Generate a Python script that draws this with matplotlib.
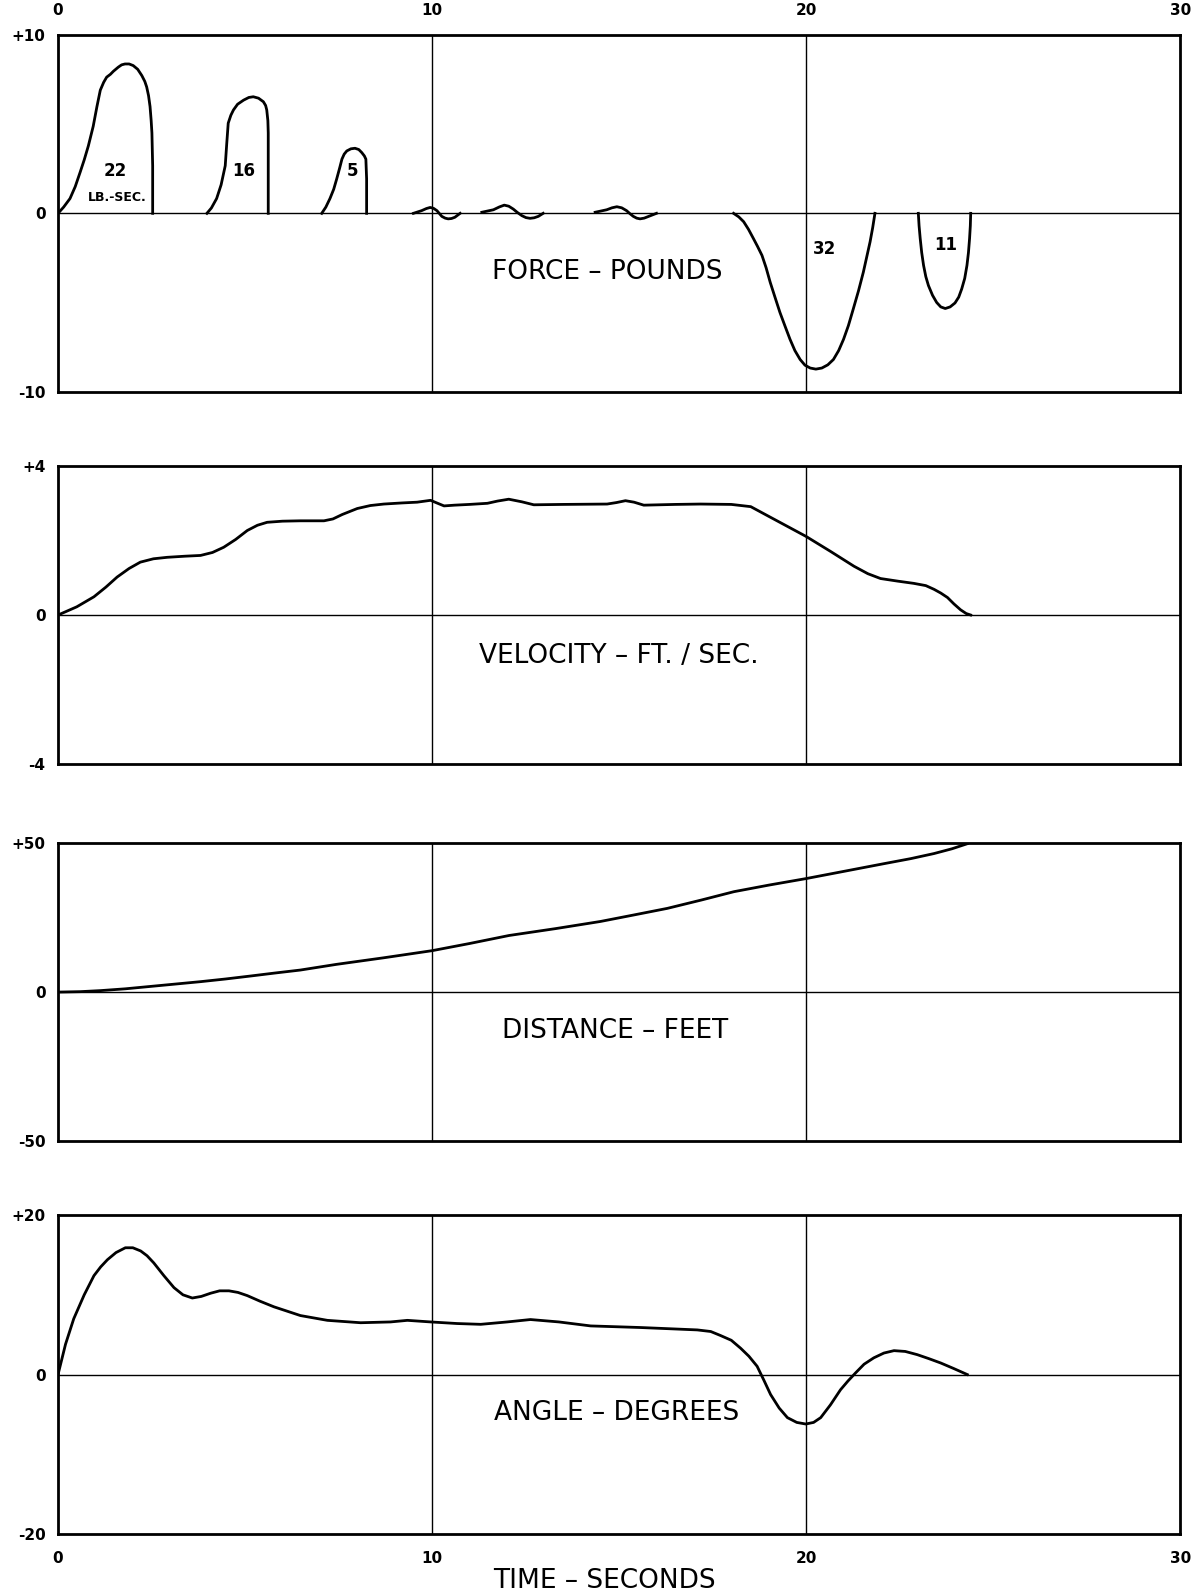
import matplotlib
matplotlib.use("Agg")
from matplotlib import pyplot as plt

# force pulses (time s, force lb)
f1_t = [0, 0.15, 0.32, 0.46, 0.59, 0.70, 0.81, 0.94, 1.04, 1.13, 1.22, 1.30, 1.40, 1.48, 1.61, 1.70, 1.79, 1.90, 2.01, 2.13, 2.24, 2.32, 2.37, 2.42, 2.46, 2.49, 2.51, 2.53, 2.53]
f1_f = [0, 0.35, 0.83, 1.50, 2.30, 3.00, 3.78, 4.88, 5.99, 6.91, 7.35, 7.64, 7.80, 7.97, 8.20, 8.33, 8.38, 8.38, 8.29, 8.08, 7.73, 7.40, 7.09, 6.60, 5.99, 5.20, 4.51, 2.67, 0]
f2_t = [3.98, 4.10, 4.24, 4.36, 4.47, 4.51, 4.55, 4.62, 4.69, 4.80, 4.96, 5.10, 5.22, 5.36, 5.49, 5.55, 5.58, 5.61, 5.62, 5.62]
f2_f = [0, 0.30, 0.83, 1.60, 2.67, 3.90, 5.06, 5.50, 5.80, 6.12, 6.35, 6.50, 6.54, 6.46, 6.26, 6.05, 5.80, 5.20, 4.51, 0]
f3_t = [7.05, 7.16, 7.27, 7.37, 7.45, 7.53, 7.59, 7.65, 7.72, 7.83, 7.94, 8.04, 8.12, 8.19, 8.23, 8.25, 8.25]
f3_f = [0, 0.35, 0.83, 1.35, 1.93, 2.55, 3.04, 3.32, 3.50, 3.62, 3.65, 3.58, 3.41, 3.22, 3.04, 1.93, 0]
w1_t = [9.50, 9.72, 9.85, 9.95, 10.04, 10.13, 10.26, 10.35, 10.43, 10.52, 10.61, 10.75]
w1_f = [0, 0.15, 0.27, 0.33, 0.28, 0.15, -0.17, -0.27, -0.31, -0.29, -0.22, 0]
w2_t = [11.33, 11.64, 11.80, 11.93, 12.05, 12.17, 12.28, 12.40, 12.51, 12.62, 12.73, 12.84, 12.97]
w2_f = [0.06, 0.20, 0.36, 0.46, 0.40, 0.24, 0.05, -0.13, -0.24, -0.28, -0.25, -0.17, 0]
w3_t = [14.36, 14.67, 14.81, 14.94, 15.07, 15.20, 15.29, 15.38, 15.47, 15.56, 15.67, 15.78, 16.00]
w3_f = [0.06, 0.20, 0.31, 0.37, 0.31, 0.15, -0.02, -0.17, -0.27, -0.31, -0.27, -0.18, 0]
d1_t = [18.06, 18.20, 18.33, 18.46, 18.59, 18.70, 18.82, 18.93, 19.04, 19.17, 19.30, 19.44, 19.57, 19.70, 19.84, 19.97, 20.11, 20.26, 20.42, 20.58, 20.73, 20.87, 21.00, 21.13, 21.26, 21.40, 21.53, 21.62, 21.71, 21.78, 21.84]
d1_f = [0, -0.20, -0.47, -0.90, -1.41, -1.85, -2.36, -3.05, -3.87, -4.72, -5.56, -6.35, -7.07, -7.70, -8.20, -8.52, -8.68, -8.74, -8.68, -8.50, -8.20, -7.70, -7.07, -6.30, -5.37, -4.35, -3.30, -2.45, -1.60, -0.80, 0]
d2_t = [23.00, 23.02, 23.05, 23.09, 23.14, 23.20, 23.27, 23.38, 23.49, 23.60, 23.72, 23.85, 23.98, 24.08, 24.16, 24.24, 24.30, 24.34, 24.37, 24.39, 24.40]
d2_f = [0, -0.70, -1.41, -2.20, -2.92, -3.55, -4.05, -4.60, -5.00, -5.25, -5.34, -5.25, -5.03, -4.70, -4.24, -3.65, -2.92, -2.20, -1.41, -0.70, 0]

pulse_labels = ["22", "LB.-SEC.", "16", "5", "32", "11"]
pulse_label_t = [1.53, 1.58, 4.97, 7.86, 20.5, 23.72]
pulse_label_f = [2.4, 0.9, 2.4, 2.4, -2.0, -1.8]

# velocity ft/sec
vel_t = [0, 0.50, 0.96, 1.28, 1.58, 1.90, 2.20, 2.55, 2.92, 3.40, 3.81, 4.13, 4.43, 4.75, 5.06, 5.33, 5.59, 6.00, 6.48, 7.11, 7.35, 7.60, 8.00, 8.35, 8.71, 9.20, 9.60, 9.96,
         10.15, 10.32, 10.60, 11.00, 11.48, 11.75, 12.05, 12.40, 12.72, 13.50, 14.68, 14.93, 15.17, 15.40, 15.66, 16.50, 17.18, 18.00, 18.52, 19.00, 19.50, 20.00, 20.65, 21.28, 21.65, 21.99,
         22.45, 22.88, 23.20, 23.42, 23.60, 23.78, 23.95, 24.13, 24.28, 24.40]
vel_v = [0, 0.22, 0.49, 0.75, 1.02, 1.25, 1.42, 1.51, 1.55, 1.58, 1.60, 1.68, 1.82, 2.03, 2.27, 2.41, 2.49, 2.52, 2.53, 2.53, 2.58, 2.70, 2.86, 2.94, 2.98, 3.01, 3.03, 3.08,
         3.00, 2.93, 2.95, 2.97, 3.00, 3.06, 3.11, 3.04, 2.96, 2.97, 2.98, 3.02, 3.07, 3.03, 2.95, 2.97, 2.98, 2.97, 2.91, 2.65, 2.38, 2.11, 1.71, 1.31, 1.11, 0.98,
         0.91, 0.85, 0.79, 0.69, 0.59, 0.47, 0.30, 0.14, 0.04, 0]

# distance feet
dist_t = [0, 0.60, 1.14, 1.80, 2.47, 3.14, 3.81, 4.48, 5.15, 5.80, 6.48, 7.44, 8.70, 10.00, 11.00, 12.06, 13.30, 14.50, 15.40, 16.29, 17.20, 18.07, 19.00, 20.00, 21.00, 22.08, 22.80, 23.42, 23.90, 24.31]
dist_d = [0, 0.15, 0.5, 1.1, 1.9, 2.7, 3.5, 4.4, 5.4, 6.4, 7.4, 9.3, 11.5, 13.9, 16.3, 19.0, 21.3, 23.7, 25.9, 28.1, 30.9, 33.7, 35.9, 38.1, 40.5, 43.1, 44.8, 46.5, 48.1, 49.8]

# angle degrees
ang_t = [0, 0.20, 0.42, 0.70, 0.96, 1.14, 1.32, 1.55, 1.80, 2.00, 2.21, 2.38, 2.56, 2.83, 3.10, 3.34, 3.59, 3.83, 4.08, 4.32, 4.57, 4.81, 5.06, 5.40, 5.77, 6.48, 7.20,
         8.09, 8.89, 9.34, 9.96, 10.67, 11.30, 12.01, 12.63, 13.39, 14.24, 15.57, 17.09, 17.45, 17.71, 18.00,
         18.25, 18.47, 18.69, 18.87, 19.05, 19.28, 19.50, 19.75, 19.99, 20.20, 20.39, 20.65, 20.92, 21.12, 21.32, 21.55, 21.81, 22.08, 22.35, 22.65, 22.97, 23.28, 23.60, 23.95, 24.31]
ang_a = [0, 3.8, 7.0, 10.0, 12.4, 13.5, 14.4, 15.3, 15.9, 15.9, 15.5, 14.9, 14.0, 12.4, 10.9, 10.0, 9.6, 9.8, 10.2, 10.5, 10.5, 10.3, 9.9, 9.2, 8.5, 7.4, 6.8,
         6.5, 6.6, 6.8, 6.6, 6.4, 6.3, 6.6, 6.9, 6.6, 6.1, 5.9, 5.6, 5.4, 4.9, 4.3,
         3.3, 2.3, 1.04, -0.70, -2.5, -4.2, -5.4, -6.0, -6.2, -6.0, -5.4, -3.8, -1.9, -0.80, 0.2, 1.3, 2.1, 2.7, 3.0, 2.9, 2.5, 2.0, 1.45, 0.75, 0]

panel_titles = ["FORCE – POUNDS", "VELOCITY – FT. / SEC.", "DISTANCE – FEET", "ANGLE – DEGREES"]
title_pos = [(14.67, -3.3), (15.0, -1.1), (14.9, -13.2), (14.93, -4.8)]
ylims = [10, 4, 50, 20]
ytick_labels = [["-10", "0", "+10"], ["-4", "0", "+4"], ["-50", "0", "+50"], ["-20", "0", "+20"]]
xticks = [0, 10, 20, 30]

fig = plt.figure(figsize=(12.04, 15.95), dpi=100)
boxes = [[0.0482, 0.7545, 0.932, 0.2235],
         [0.0482, 0.5210, 0.932, 0.1868],
         [0.0482, 0.2846, 0.932, 0.1868],
         [0.0482, 0.0382, 0.932, 0.2000]]

axes = []
for i, box in enumerate(boxes):
    ax = fig.add_axes(box)
    lim = ylims[i]
    ax.set_xlim(0, 30)
    ax.set_ylim(-lim, lim)
    ax.axhline(0, color='black', lw=1.0, zorder=1)
    for xv in [10, 20]:
        ax.axvline(xv, color='black', lw=1.0, zorder=1)
    for s in ax.spines.values():
        s.set_linewidth(2.0)
    ax.set_yticks([-lim, 0, lim])
    ax.set_yticklabels(ytick_labels[i], fontsize=11, fontweight='bold')
    ax.tick_params(length=0, pad=9)
    ax.set_xticks(xticks)
    if i == 0:
        ax.xaxis.tick_top()
        ax.set_xticklabels([str(x) for x in xticks], fontsize=11, fontweight='bold')
        ax.tick_params(axis='x', pad=12)
    elif i == 3:
        ax.set_xticklabels([str(x) for x in xticks], fontsize=11, fontweight='bold')
        ax.tick_params(axis='x', pad=12)
    else:
        ax.set_xticklabels([])
    tx, ty = title_pos[i]
    ax.text(tx, ty, panel_titles[i], fontsize=19, ha='center', va='center')
    axes.append(ax)

lw = 2.0
ax = axes[0]
for t, f in [(f1_t, f1_f), (f2_t, f2_f), (f3_t, f3_f), (w1_t, w1_f), (w2_t, w2_f),
             (w3_t, w3_f), (d1_t, d1_f), (d2_t, d2_f)]:
    ax.plot(t, f, color='black', lw=lw, solid_joinstyle='round')
for lab, t, f in zip(pulse_labels, pulse_label_t, pulse_label_f):
    ax.text(t, f, lab, fontsize=12 if lab != "LB.-SEC." else 9, fontweight='bold',
            ha='center', va='center')

axes[1].plot(vel_t, vel_v, color='black', lw=lw, solid_joinstyle='round')
axes[2].plot(dist_t, dist_d, color='black', lw=lw, solid_joinstyle='round')
axes[3].plot(ang_t, ang_a, color='black', lw=lw, solid_joinstyle='round')

fig.text(0.502, 1 - 1581 / 1595, "TIME – SECONDS", fontsize=19, ha='center', va='center')

plt.savefig('out.png', dpi=100)
